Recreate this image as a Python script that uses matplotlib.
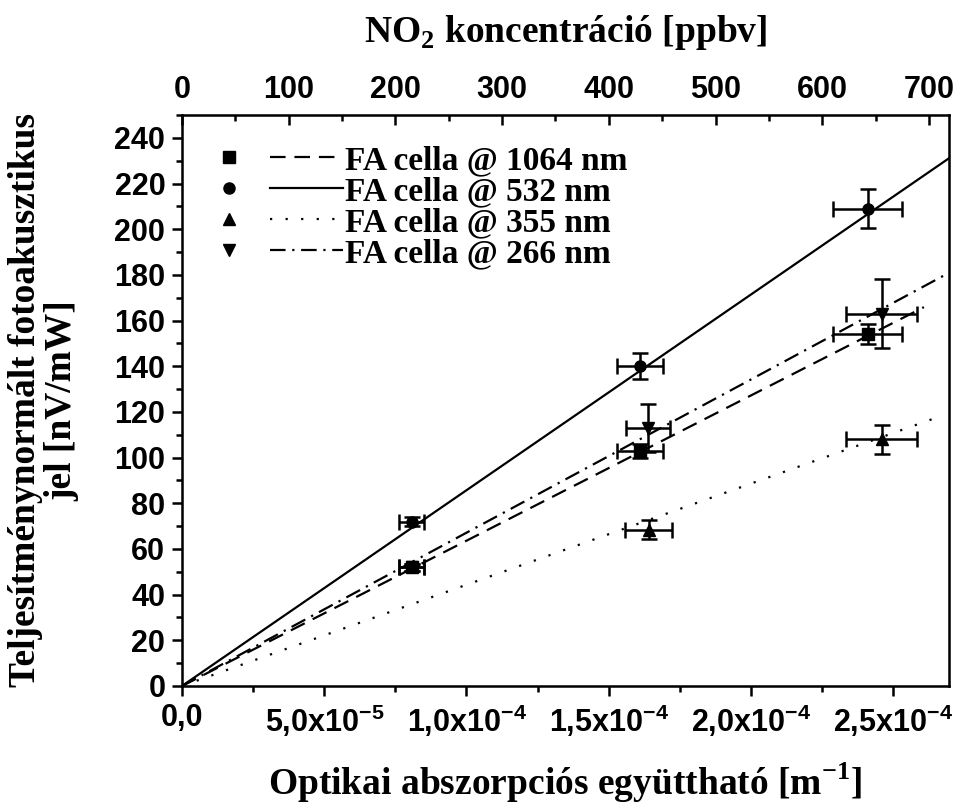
import matplotlib
matplotlib.use('Agg')
import numpy as np
from matplotlib import pyplot as plt
from matplotlib.lines import Line2D
from matplotlib.legend_handler import HandlerTuple
from matplotlib.ticker import MultipleLocator, FuncFormatter

sans = 'Liberation Sans'
serif = 'Liberation Serif'

# adatok (abszorpcios egyutthato [1/m], jel [nV/mW])
x_1064 = [8.08e-5, 1.611e-4, 2.41e-4]
y_1064 = [52, 103, 154]
xerr_1064 = [4.4e-6, 8.1e-6, 1.22e-5]
yerr_1064 = [1.5, 3.0, 4.4]

x_532 = [8.08e-5, 1.611e-4, 2.41e-4]
y_532 = [72, 140, 209]
xerr_532 = [4.4e-6, 8.1e-6, 1.22e-5]
yerr_532 = [2.0, 5.7, 8.5]

x_355 = [1.64e-4, 2.46e-4]
y_355 = [68.5, 108]
xerr_355 = [8.3e-6, 1.25e-5]
yerr_355 = [4.0, 6.3]

x_266 = [8.08e-5, 1.639e-4, 2.46e-4]
y_266 = [52, 113, 163]
xerr_266 = [4.4e-6, 7.8e-6, 1.25e-5]
yerr_266 = [1.5, 10.5, 15.0]

# illesztett egyenesek meredeksege es vege
meredekseg = {'1064': 6.36e5, '532': 8.57e5, '355': 4.43e5, '266': 6.71e5}
vege = {'1064': 2.608e-4, '532': 2.696e-4, '355': 2.66e-4, '266': 2.696e-4}

cimkek = ['FA cella @ 1064 nm', 'FA cella @ 532 nm', 'FA cella @ 355 nm', 'FA cella @ 266 nm']

fig = plt.figure(figsize=(9.6, 8.07), dpi=100)
ax = fig.add_axes([0.1896, 0.150, 0.7989, 0.7075])

stilus = {
    '1064': ('s', (0, (7, 4))),
    '532': ('o', '-'),
    '355': ('^', (0, (1, 6))),
    '266': ('v', (0, (7, 3, 1, 3))),
}
adat = {
    '1064': (x_1064, y_1064, xerr_1064, yerr_1064),
    '532': (x_532, y_532, xerr_532, yerr_532),
    '355': (x_355, y_355, xerr_355, yerr_355),
    '266': (x_266, y_266, xerr_266, yerr_266),
}

handles = []
for k in ['1064', '532', '355', '266']:
    mk, ls = stilus[k]
    xx, yy, xe, ye = adat[k]
    ax.errorbar(xx, yy, xerr=xe, yerr=ye, fmt=mk, color='k', ms=8,
                capsize=6, elinewidth=1.8, capthick=1.8, zorder=3)
    xv = np.linspace(0, vege[k], 50)
    ax.plot(xv, meredekseg[k] * xv, color='k', lw=1.6, ls=ls, zorder=2)
    handles.append((Line2D([], [], marker=mk, color='k', ls='none', ms=8),
                    Line2D([], [], color='k', lw=1.6, ls=ls)))

ax.set_xlim(0, 2.696e-4)
ax.set_ylim(0, 250)
ax.xaxis.set_major_locator(MultipleLocator(5e-5))
ax.xaxis.set_minor_locator(MultipleLocator(2.5e-5))
ax.yaxis.set_major_locator(MultipleLocator(20))
ax.yaxis.set_minor_locator(MultipleLocator(10))


def xfmt(v, pos):
    if abs(v) < 1e-12:
        return '0,0'
    e = int(np.floor(np.log10(abs(v)) + 1e-9))
    m = v / 10 ** e
    return ('%.1f' % m).replace('.', ',') + 'x10$^{\\mathdefault{%d}}$' % e


ax.xaxis.set_major_formatter(FuncFormatter(xfmt))
ax.tick_params(which='major', direction='out', length=7, width=1.8, labelsize=22, pad=5)
ax.tick_params(which='minor', direction='out', length=4, width=1.8)
for sp in ax.spines.values():
    sp.set_linewidth(1.8)
for t in ax.get_xticklabels() + ax.get_yticklabels():
    t.set_fontfamily(sans)
    t.set_fontweight('bold')

ax.set_xlabel('Optikai abszorpciós együttható [m$^{\\mathdefault{-1}}$]',
              fontfamily=serif, fontweight='bold', fontsize=27, labelpad=16)
ax.set_ylabel('Teljesítménynormált fotoakusztikus\njel [nV/mW]',
              fontfamily=serif, fontweight='bold', fontsize=27, labelpad=25,
              linespacing=1.05)

ax2 = ax.twiny()
ax2.set_xlim(0, 718.8)
ax2.xaxis.set_major_locator(MultipleLocator(100))
ax2.xaxis.set_minor_locator(MultipleLocator(50))
ax2.tick_params(which='major', direction='in', length=7, width=1.8, labelsize=22, pad=7)
ax2.tick_params(which='minor', direction='in', length=4, width=1.8)
for t in ax2.get_xticklabels():
    t.set_fontfamily(sans)
    t.set_fontweight('bold')
ax2.set_xlabel('NO$_{\\mathdefault{2}}$ koncentráció [ppbv]',
               fontfamily=serif, fontweight='bold', fontsize=27, labelpad=24)

leg = ax.legend(handles, cimkek, handler_map={tuple: HandlerTuple(ndivide=2, pad=0.15)},
                loc='upper left', bbox_to_anchor=(-0.025, 1.0), frameon=False,
                handlelength=4.5, handletextpad=0.05, labelspacing=0.0,
                prop={'family': serif, 'weight': 'bold', 'size': 24})

fig.savefig('out.png', dpi=100)
